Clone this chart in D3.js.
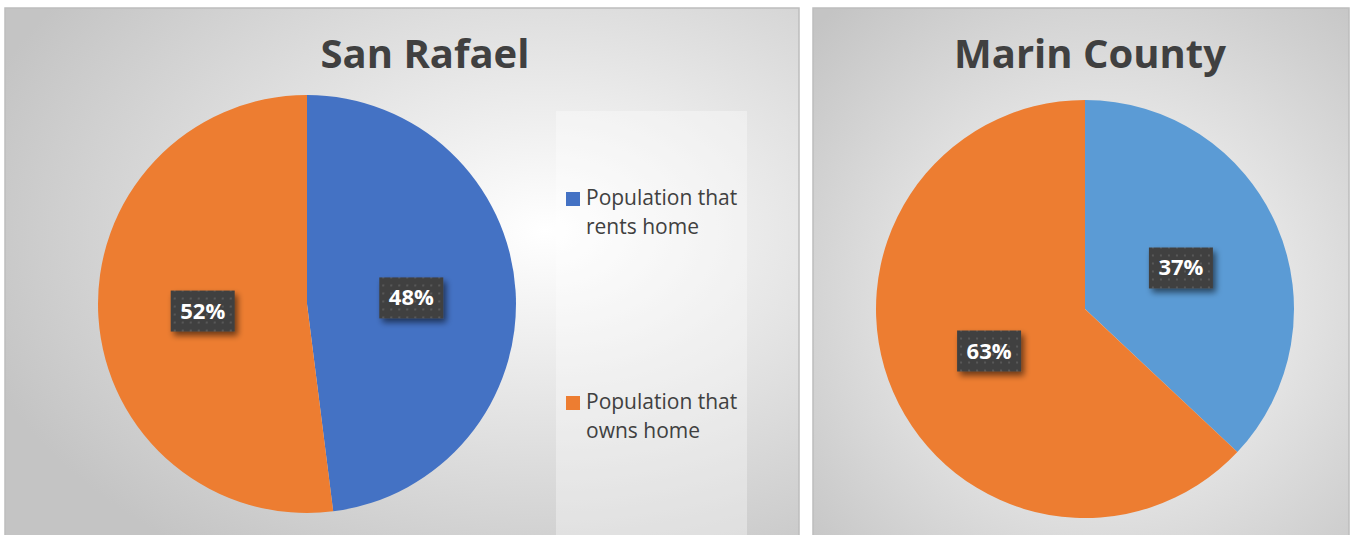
<!DOCTYPE html>
<html><head><meta charset="utf-8">
<script src="https://cdn.jsdelivr.net/npm/d3@7"></script>
<style>body{margin:0;background:#fff;overflow:hidden}svg{display:block}text{font-family:"Open Sans","Noto Sans",sans-serif}</style>
</head><body>
<svg id="c" width="1352" height="535"></svg>
<script>
const categories = ["Population that rents home", "Population that owns home"];
const legendLines = [["Population that", "rents home"], ["Population that", "owns home"]];
const titles = ["San Rafael", "Marin County"];
const sanRafaelValues = [48, 52];
const marinValues = [37, 63];
const sanRafaelColors = ["#4472C4", "#ED7D31"];
const marinColors = ["#5B9BD5", "#ED7D31"];

const svg = d3.select("#c");
const defs = svg.append("defs");

function grad(id, cx, cy) {
  const g = defs.append("radialGradient").attr("id", id).attr("cx", cx).attr("cy", cy).attr("r", "75%");
  g.append("stop").attr("offset", "0%").attr("stop-color", "#ffffff");
  g.append("stop").attr("offset", "100%").attr("stop-color", "#c4c4c4");
}
grad("g1", "0.68", "0.42");
grad("g2", "0.55", "0.55");

const pat = defs.append("pattern").attr("id", "dots").attr("patternUnits", "userSpaceOnUse")
  .attr("width", 8).attr("height", 8);
pat.append("rect").attr("width", 8).attr("height", 8).attr("fill", "#404040");
pat.append("rect").attr("x", 3).attr("y", 3).attr("width", 2).attr("height", 2).attr("fill", "#595959");

const f = defs.append("filter").attr("id", "sh").attr("x", "-30%").attr("y", "-30%").attr("width", "170%").attr("height", "180%");
f.append("feGaussianBlur").attr("in", "SourceAlpha").attr("stdDeviation", 3);
f.append("feOffset").attr("dx", 3).attr("dy", 4).attr("result", "b");
f.append("feComponentTransfer").append("feFuncA").attr("type", "linear").attr("slope", 0.55);
const m = f.append("feMerge"); m.append("feMergeNode"); m.append("feMergeNode").attr("in", "SourceGraphic");

const panels = [
  {x: 5, y: 8, w: 794, h: 530, gid: "g1", title: titles[0], tx: 425, cx: 307, cy: 304, r: 209, vals: sanRafaelValues, cols: sanRafaelColors, legend: true},
  {x: 813, y: 8, w: 536, h: 530, gid: "g2", title: titles[1], tx: 1090, cx: 1085, cy: 309, r: 209, vals: marinValues, cols: marinColors, legend: false}
];

panels.forEach(p => {
  svg.append("rect").attr("x", p.x).attr("y", p.y).attr("width", p.w).attr("height", p.h)
    .attr("fill", `url(#${p.gid})`).attr("stroke", "#bdbdbd").attr("stroke-width", 1.5);
  svg.append("text").attr("x", p.tx).attr("y", 68).attr("text-anchor", "middle")
    .attr("font-size", 40).attr("font-weight", 700).attr("fill", "#404040").text(p.title);

  const pie = d3.pie().sort(null).value(d => d)(p.vals);
  const arc = d3.arc().innerRadius(0).outerRadius(p.r);
  const g = svg.append("g").attr("transform", `translate(${p.cx},${p.cy})`);
  g.selectAll("path").data(pie).join("path").attr("d", arc).attr("fill", (d, i) => p.cols[i]);

  const la = d3.arc().innerRadius(p.r * 0.5).outerRadius(p.r * 0.5);
  pie.forEach((d, i) => {
    const [lx, ly] = la.centroid(d);
    const lg = g.append("g").attr("transform", `translate(${lx},${ly})`);
    lg.append("rect").attr("x", -32).attr("y", -20).attr("width", 64).attr("height", 41)
      .attr("fill", "url(#dots)").attr("filter", "url(#sh)");
    lg.append("text").attr("y", 8).attr("text-anchor", "middle").attr("font-size", 22)
      .attr("font-weight", 700).attr("fill", "#fff").text(d.data + "%");
  });

  if (p.legend) {
    svg.append("rect").attr("x", 556).attr("y", 111).attr("width", 191).attr("height", 426)
      .attr("fill", "#fff").attr("opacity", 0.35);
    const ys = [192, 396];
    categories.forEach((c, i) => {
      svg.append("rect").attr("x", 566).attr("y", ys[i]).attr("width", 14).attr("height", 14).attr("fill", p.cols[i]);
      legendLines[i].forEach((t, j) => {
        svg.append("text").attr("x", 586).attr("y", ys[i] + 13 + j * 29).attr("font-size", 21)
          .attr("fill", "#404040").text(t);
      });
    });
  }
});
</script>
</body></html>
